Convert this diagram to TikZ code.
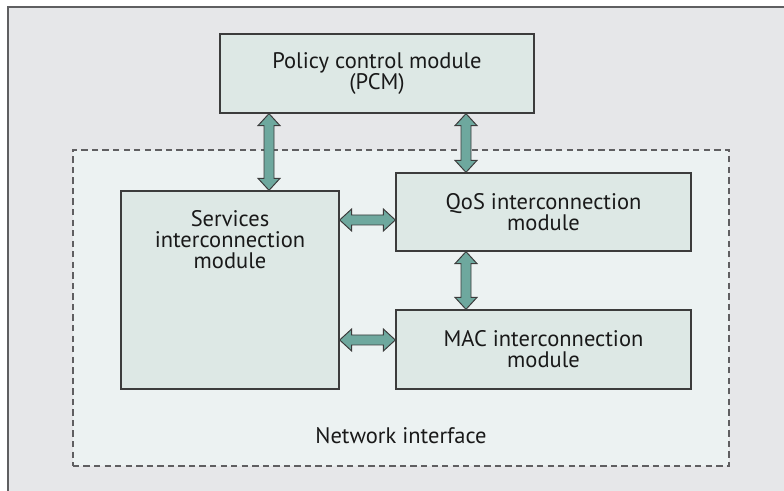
\documentclass[tikz,border=0pt]{standalone}
\usepackage{fontspec}
\setmainfont{PT Sans}
\usepackage{tikz}
\usetikzlibrary{calc,positioning}
\definecolor{fondo}{RGB}{230,231,233}
\definecolor{interfaz}{RGB}{236,242,242}
\definecolor{caja}{RGB}{221,232,229}
\definecolor{verdeAzul}{RGB}{110,168,158}
\definecolor{borde}{RGB}{60,60,60}
\definecolor{grisRaya}{RGB}{95,95,97}
\tikzstyle{texto} =[font=\fontsize{16}{15}\selectfont, text=black!90, align=center]
\tikzstyle{module}=[rectangle, draw=borde, fill=caja, line width=0.9pt,
                    inner sep=0pt, texto]
\tikzstyle{red}   =[rectangle, draw=grisRaya, fill=interfaz, line width=1pt,
                    dash pattern=on 4.5pt off 3pt, inner sep=0pt]
\tikzstyle{flecha}=[draw=borde, fill=verdeAzul, line width=0.7pt,
                    line join=miter]
% double block arrows, top to bottom and left to right
\newcommand{\vflecha}[2]{%
    \coordinate (p) at (#1); \coordinate (q) at (#2);
    \draw [flecha] (p) -- ++(-11,12) -- ++(6,0) -- ($(q)+(-5,-12)$) -- ++(-6,0)
        -- (q) -- ++(11,-12) -- ++(-6,0) -- ($(p)+(5,12)$) -- ++(6,0) -- cycle;}
\newcommand{\hflecha}[2]{%
    \coordinate (p) at (#1); \coordinate (q) at (#2);
    \draw [flecha] (p) -- ++(12,-11) -- ++(0,6) -- ($(q)+(-12,-5)$) -- ++(0,-6)
        -- (q) -- ++(-12,11) -- ++(0,-6) -- ($(p)+(12,5)$) -- ++(0,6) -- cycle;}

\begin{document}
\begin{tikzpicture}[x=0.025cm,y=-0.025cm]

    \useasboundingbox (0,0) rectangle (784,491);
    \fill [fondo] (8,7) rectangle (784,491);
    \draw [grisRaya, line width=1pt] (8,491) -- (8,7) -- (784,7);

    \draw (401,308) node (ni) [red, minimum width=16.4cm, minimum height=7.9cm] {};
    \draw (401,436) node (nitexto) [texto] {Network interface};

    \draw (377,73.5) node (pcm) [module, minimum width=7.85cm, minimum height=1.975cm]
        {Policy control module\\(PCM)};
    \draw (230,290) node (svc) [module, minimum width=5.45cm, minimum height=4.95cm,
        label={[texto, anchor=north, inner sep=0pt, yshift=-0.49cm]north:{Services\\interconnection\\module}}] {};
    \draw (543.5,212) node (qos) [module, minimum width=7.375cm, minimum height=1.95cm]
        {QoS interconnection\\module};
    \draw (543.5,349.5) node (mac) [module, minimum width=7.375cm, minimum height=1.975cm]
        {MAC interconnection\\module};

    \coordinate (xi) at (269,0);
    \coordinate (xd) at (466,0);
    \coordinate (ya) at (0,220);
    \coordinate (yb) at (0,340);

    \foreach \i/\j/\c in {pcm/svc/xi,pcm/qos/xd,qos/mac/xd}
        {\vflecha{\i.south -| \c}{\j.north -| \c}}
    \foreach \i/\j/\c in {svc/qos/ya,svc/mac/yb}
        {\hflecha{\i.east |- \c}{\j.west |- \c}}

\end{tikzpicture}
\end{document}
